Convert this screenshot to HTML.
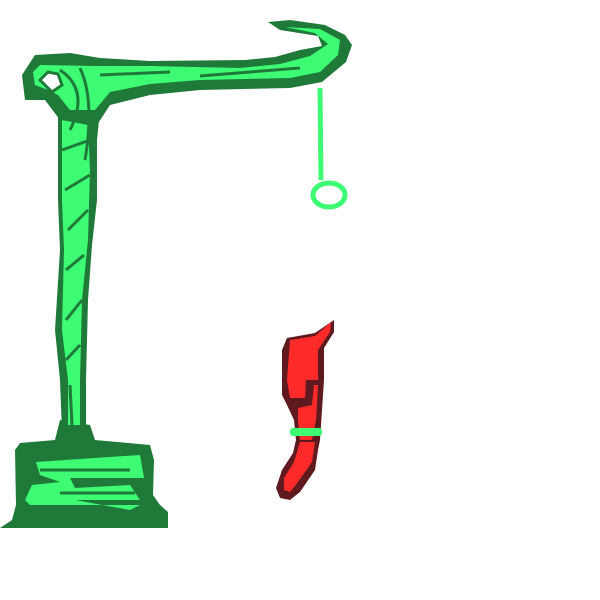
<!DOCTYPE html>
<html><head><meta charset="utf-8"><style>body{margin:0;background:#fff}svg{display:block}</style></head>
<body>
<svg width="600" height="600" viewBox="0 0 600 600">
<g>
  <path fill="#1f7a3a" d="M60,420 L90,425 L95,440 L150,445 L154,460 L153,495 L160,505 L168,512 L168,528 L0,528 L12,520 L16,505 L15,450 L20,443 L55,440 Z"/>
  <path fill="#3dfc73" d="M36,462 L140,455 L144,478 L70,478 L75,488 L130,485 L140,500 L75,500 L130,510 L140,505 L30,505 L25,500 L32,485 L60,482 L40,475 Z"/>
  <path fill="#1f7a3a" d="M58,105 L100,110 L97,140 L97,200 L92,245 L88,300 L86,380 L86,430 L62,432 L60,380 L55,330 L60,250 L58,200 Z"/>
  <path fill="#3dfc73" d="M62,120 L88,125 L90,170 L88,240 L82,300 L80,380 L80,425 L68,425 L68,380 L62,330 L64,250 L62,200 Z"/>
  <path fill="#1f7a3a" d="M35,55 L70,53 L100,58 L150,61 L245,60 L275,57 L300,50 L322,46 L318,36 L280,30 L268,22 L290,20 L325,25 L345,35 L352,45 L346,62 L322,82 L290,88 L200,90 L150,95 L110,105 L97,125 L60,120 L45,100 L25,100 L22,75 Z"/>
  <path fill="#3dfc73" d="M40,65 L95,66 L150,66 L240,68 L280,64 L310,56 L328,44 L315,33 L285,27 L320,29 L340,40 L338,55 L320,72 L290,78 L200,80 L150,84 L110,92 L95,110 L70,110 L58,95 L48,90 L35,85 L33,72 Z"/>
  <path fill="#fff" stroke="#1f7a3a" stroke-width="3" d="M40,80 L48,72 L58,74 L62,85 L52,92 Z"/>
  <g stroke="#1f7a3a" stroke-width="3" fill="none">
    <path d="M60,70 Q90,90 70,130"/><path d="M80,68 Q95,100 85,160"/><path d="M100,75 L170,72"/><path d="M200,76 L300,68"/>
    <path d="M62,150 L90,140"/><path d="M65,190 L90,175"/><path d="M68,230 L88,210"/><path d="M66,270 L84,255"/><path d="M66,320 L82,300"/><path d="M66,360 L80,345"/><path d="M70,385 L72,425"/>
    <path d="M40,470 L130,470"/><path d="M60,493 L135,493"/><path d="M75,440 L60,455"/><path d="M85,440 L110,452"/>
  </g>
</g>
<g stroke="#3dfc73" stroke-width="5" fill="none">
  <line x1="320" y1="88" x2="321" y2="180"/>
  <ellipse cx="329" cy="195" rx="16" ry="12"/>
</g>
<g>
  <path fill="#5e1a1f" d="M287,338 L315,333 L334,320 L334,332 L324,348 L324,380 L322,410 L320,440 L318,450 L315,470 L300,492 L290,500 L280,498 L276,488 L282,470 L293,453 L296,440 L294,420 L287,405 L282,395 L282,350 Z"/>
  <path fill="#fd2a2a" d="M290,340 L315,336 L331,322 L330,332 L318,350 L318,380 L306,380 L305,398 L290,398 L287,380 Z M298,408 L312,405 L314,385 L318,385 L316,420 L312,440 L300,440 L298,420 Z M300,442 L315,442 L312,462 L298,482 L290,492 L284,490 L284,478 L294,462 Z"/>
  <rect x="290" y="428" width="32" height="8" rx="3" fill="#3dfc73"/>
</g>
</svg>
</body></html>
